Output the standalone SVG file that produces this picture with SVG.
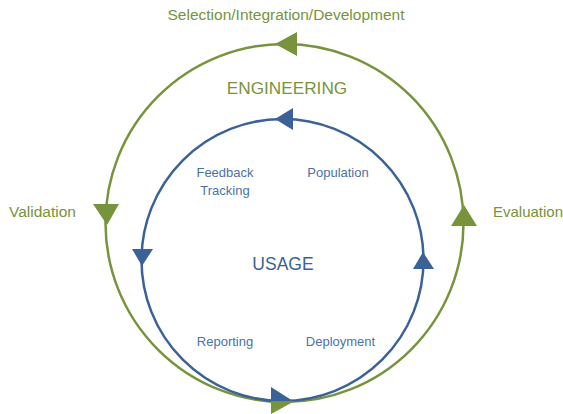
<svg xmlns="http://www.w3.org/2000/svg" width="563" height="414" viewBox="0 0 563 414">
<style>
.g{fill:none;stroke:#77933C;stroke-width:2.5}
.b{fill:none;stroke:#3A6296;stroke-width:2.5}
.ga{fill:#77933C}
.ba{fill:#3A6296}
text{font-family:"Liberation Sans",Arial,sans-serif;text-anchor:middle}
.gt{fill:#77933C;font-size:15.5px}
.bt{fill:#4A72A8;font-size:13px}
.eng{font-size:17.2px}
.big{font-size:17.5px}
</style>
<rect width="563" height="414" fill="#fff"/>
<g id="connectors">
<circle class="g" cx="284.5" cy="223" r="179"/>
<circle class="b" cx="282.5" cy="260" r="141"/>
<polygon class="ga" points="275,44 297,32 297,56"/>
<polygon class="ga" points="93,204 119,204 107,225"/>
<polygon class="ga" points="451,226 477,226 464,205"/>
<polygon class="ga" points="293,402 271,390 271,414"/>
<polygon class="ba" points="275,119 293,108 293,130"/>
<polygon class="ba" points="132,249 153,249 142,266"/>
<polygon class="ba" points="413,269 434,269 423,252"/>
<polygon class="ba" points="271,387 293,401 271,401"/>
</g>
<g id="selection"><text class="gt" x="286" y="20">Selection/Integration/Development</text></g>
<g id="engineering"><text class="gt eng" x="287" y="94">ENGINEERING</text></g>
<g id="validation"><text class="gt" x="42.5" y="217">Validation</text></g>
<g id="evaluation"><text class="gt" x="528" y="217" style="font-size:15px">Evaluation</text></g>
<g id="usage"><text class="bt big" x="283" y="270" style="fill:#3A6296">USAGE</text></g>
<g id="feedback"><text class="bt" x="225" y="177">Feedback</text><text class="bt" x="225" y="195">Tracking</text></g>
<g id="population"><text class="bt" x="338" y="177">Population</text></g>
<g id="reporting"><text class="bt" x="225" y="346">Reporting</text></g>
<g id="deployment"><text class="bt" x="340.5" y="346">Deployment</text></g>
</svg>
